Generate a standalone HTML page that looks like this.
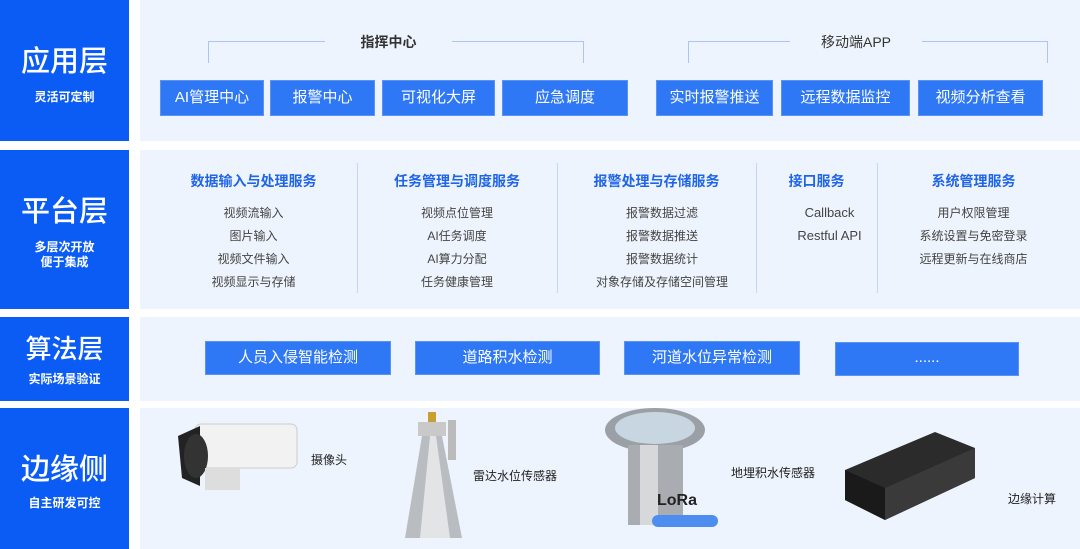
<!DOCTYPE html>
<html><head><meta charset="utf-8"><style>
body{margin:0;width:1080px;height:549px;background:#fff;position:relative;overflow:hidden;font-family:"Liberation Sans","Noto Sans CJK SC",sans-serif}
.a{position:absolute}
.L{background:#0b5cf5;color:#fff;left:0;width:129px;text-align:center}
.L b{display:block;font-size:29px;font-weight:500}
.L i{display:block;font-style:normal;font-size:12px;font-weight:700;line-height:15px}
.P{background:#eef4fd;left:140px;width:940px}
.btn{position:absolute;background:#2f78f5;color:#fff;font-size:15px;text-align:center;border:1px solid #5a93f2;box-sizing:border-box}
.h{position:absolute;color:#1f65e8;font-size:14px;font-weight:700;text-align:center}
.it{position:absolute;color:#444;font-size:12px;text-align:center;line-height:23px}
.ln{position:absolute;background:#a9c6f5}
.dv{position:absolute;width:1px;top:163px;height:130px;background:#c3d7f5}
.lb{position:absolute;font-size:12px;color:#222}
</style></head><body>
<div class="a L" style="top:0;height:141px"><b style="margin-top:38px">应用层</b><i style="margin-top:10px">灵活可定制</i></div>
<div class="a L" style="top:150px;height:159px"><b style="margin-top:38px">平台层</b><i style="margin-top:10px">多层次开放<br>便于集成</i></div>
<div class="a L" style="top:317px;height:84px"><b style="margin-top:12px;font-size:26px">算法层</b><i style="margin-top:6px">实际场景验证</i></div>
<div class="a L" style="top:408px;height:141px"><b style="margin-top:38px">边缘侧</b><i style="margin-top:8px">自主研发可控</i></div>

<div class="a P" style="top:0;height:141px"></div>
<div class="a P" style="top:150px;height:159px"></div>
<div class="a P" style="top:317px;height:84px"></div>
<div class="a P" style="top:408px;height:141px"></div>

<div class="ln" style="left:208px;top:41px;width:117px;height:1px"></div>
<div class="ln" style="left:208px;top:41px;width:1px;height:22px"></div>
<div class="ln" style="left:452px;top:41px;width:131px;height:1px"></div>
<div class="ln" style="left:583px;top:41px;width:1px;height:22px"></div>
<div class="a" style="left:325px;width:127px;top:32px;text-align:center;font-size:14px;font-weight:700;color:#333">指挥中心</div>
<div class="ln" style="left:688px;top:41px;width:102px;height:1px"></div>
<div class="ln" style="left:688px;top:41px;width:1px;height:22px"></div>
<div class="ln" style="left:922px;top:41px;width:125px;height:1px"></div>
<div class="ln" style="left:1047px;top:41px;width:1px;height:22px"></div>
<div class="a" style="left:790px;width:132px;top:32px;text-align:center;font-size:14px;color:#333">移动端APP</div>

<div class="btn" style="left:160px;top:80px;width:104px;height:36px;line-height:34px">AI管理中心</div>
<div class="btn" style="left:270px;top:80px;width:105px;height:36px;line-height:34px">报警中心</div>
<div class="btn" style="left:382px;top:80px;width:113px;height:36px;line-height:34px">可视化大屏</div>
<div class="btn" style="left:502px;top:80px;width:126px;height:36px;line-height:34px">应急调度</div>
<div class="btn" style="left:656px;top:80px;width:117px;height:36px;line-height:34px">实时报警推送</div>
<div class="btn" style="left:781px;top:80px;width:129px;height:36px;line-height:34px">远程数据监控</div>
<div class="btn" style="left:918px;top:80px;width:125px;height:36px;line-height:34px">视频分析查看</div>

<div class="dv" style="left:357px"></div><div class="dv" style="left:557px"></div><div class="dv" style="left:756px"></div><div class="dv" style="left:877px"></div>
<div class="h" style="left:150px;width:207px;top:171px">数据输入与处理服务</div>
<div class="it" style="left:150px;width:207px;top:202px">视频流输入<br>图片输入<br>视频文件输入<br>视频显示与存储</div>
<div class="h" style="left:357px;width:200px;top:171px">任务管理与调度服务</div>
<div class="it" style="left:357px;width:200px;top:202px">视频点位管理<br>AI任务调度<br>AI算力分配<br>任务健康管理</div>
<div class="h" style="left:557px;width:199px;top:171px">报警处理与存储服务</div>
<div class="it" style="left:557px;width:212px;top:202px;left:557px;width:210px">报警数据过滤<br>报警数据推送<br>报警数据统计<br>对象存储及存储空间管理</div>
<div class="h" style="left:756px;width:121px;top:171px">接口服务</div>
<div class="it" style="left:769px;width:121px;top:201px;font-size:13px">Callback<br>Restful API</div>
<div class="h" style="left:877px;width:203px;top:171px;left:872px">系统管理服务</div>
<div class="it" style="left:872px;width:203px;top:202px">用户权限管理<br>系统设置与免密登录<br>远程更新与在线商店</div>

<div class="btn" style="left:205px;top:341px;width:186px;height:34px;line-height:32px">人员入侵智能检测</div>
<div class="btn" style="left:415px;top:341px;width:185px;height:34px;line-height:32px">道路积水检测</div>
<div class="btn" style="left:624px;top:341px;width:176px;height:34px;line-height:32px">河道水位异常检测</div>
<div class="btn" style="left:835px;top:342px;width:184px;height:34px;line-height:30px">......</div>

<svg class="a" style="left:0;top:0" width="1080" height="549">
<!-- camera -->
<rect x="195" y="424" width="102" height="44" rx="6" fill="#f2f2f2" stroke="#ccc"/>
<path d="M178 436 L200 426 L200 486 L182 478 Z" fill="#222"/>
<ellipse cx="196" cy="456" rx="12" ry="22" fill="#333"/>
<rect x="205" y="468" width="35" height="22" fill="#ddd"/>
<!-- radar -->
<rect x="428" y="412" width="8" height="12" fill="#c8a030"/>
<rect x="418" y="422" width="28" height="14" fill="#c9c9c9"/>
<rect x="448" y="420" width="8" height="40" fill="#bbb"/>
<path d="M422 436 L442 436 L462 538 L405 538 Z" fill="#b9bcc0"/>
<path d="M430 436 L436 436 L450 538 L420 538 Z" fill="#e2e4e6"/>
<!-- buried sensor -->
<ellipse cx="655" cy="430" rx="50" ry="22" fill="#9aa0a6"/>
<ellipse cx="655" cy="428" rx="40" ry="16" fill="#c7d6e0"/>
<rect x="628" y="445" width="55" height="80" fill="#a9adb2"/>
<rect x="640" y="445" width="18" height="80" fill="#d6d8da"/>
<text x="677" y="505" font-size="16" font-weight="700" fill="#222" font-family="Liberation Sans" text-anchor="middle">LoRa</text>
<rect x="652" y="515" width="66" height="12" rx="6" fill="#4d8df0"/>
<!-- edge box -->
<path d="M845 470 L935 432 L975 448 L975 478 L885 520 L845 500 Z" fill="#2b2b2b"/>
<path d="M845 470 L885 488 L885 520 L845 500 Z" fill="#1a1a1a"/>
<path d="M885 488 L975 448 L975 478 L885 520 Z" fill="#3a3a3a"/>
</svg>
<div class="lb" style="left:311px;top:451px">摄像头</div>
<div class="lb" style="left:473px;top:467px">雷达水位传感器</div>
<div class="lb" style="left:731px;top:464px">地埋积水传感器</div>
<div class="lb" style="left:1008px;top:490px">边缘计算</div>
</body></html>
